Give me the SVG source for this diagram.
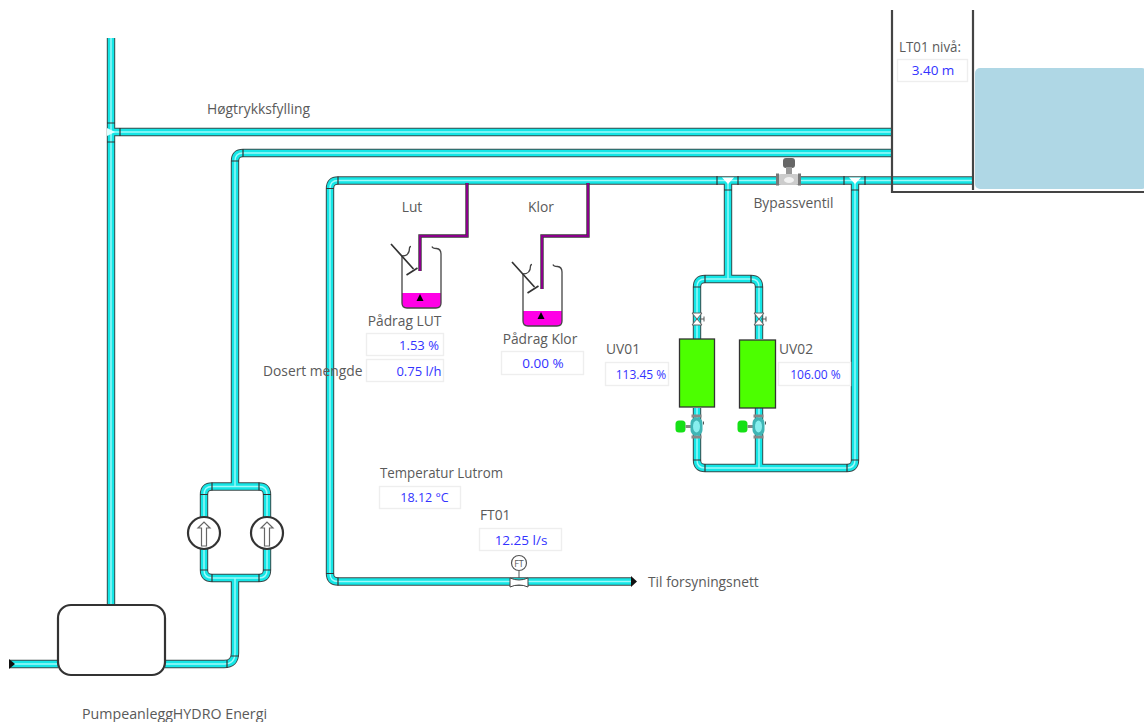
<svg xmlns="http://www.w3.org/2000/svg" width="1144" height="722" viewBox="0 0 1144 722">
<style>
text{font-family:"Open Sans","Liberation Sans",sans-serif;font-size:13.800px;fill:#5a5a5a}
.v{fill:#3333ff;text-anchor:middle;font-size:13.500px}
.c{text-anchor:middle}
.box{fill:#fff;stroke:#eee;stroke-width:1.4}
.po{fill:none;stroke:#3a4a4a;stroke-width:8.400}
.pc{fill:none;stroke:#14e6e6;stroke-width:6.400}
.pi{fill:none;stroke:#9ffafa;stroke-width:1.400}
.sm{fill:none;stroke:#333;stroke-width:1.200}
.chem{fill:none;stroke:#3a3a3a;stroke-width:3.400}
.chem2{fill:none;stroke:#8a008a;stroke-width:2}
.uv{fill:#4cff00;stroke:#333;stroke-width:1.300}
.vg{fill:#fff;stroke:#666;stroke-width:1}
.tank{fill:none;stroke:#444;stroke-width:2.200}
</style>
<defs>
<path id="p" d="M111 38V605M111 132H891M235 484V161Q235 153 243 153H891M972 180.500H338Q330 180.500 330 188.500V573.500Q330 581.500 338 581.500H632M212 486.500H259Q267 486.500 267 494.500V570Q267 578 259 578H212Q204 578 204 570V494.500Q204 486.500 212 486.500ZM235 486V484M235 578V653Q235 664 224 664H165M10 664H58M728 180V279M697 339V287Q697 279 705 279H751Q759 279 759 287V339M697 408V460Q697 468 705 468H847Q855 468 855 460V180M759 408V468"/>
<g id="beaker">
<path d="M-19.500 50H19.500V60Q19.500 65 14.500 65H-14.500Q-19.500 65 -19.500 60Z" fill="#ff00e6"/>
<path d="M-19.500 13V60Q-19.500 65 -14.500 65H14.500Q19.500 65 19.500 60V11Q19.500 6 15 5.500Q11 5.500 10.500 3.500M-19.500 13Q-12 13 -12 5Q-12 3.500 -10.500 3.500" fill="none" stroke="#444" stroke-width="1.300"/>
<path d="M-30.500 1L-8 26M-15 32L-4 25" fill="none" stroke="#333" stroke-width="1.700"/>
<path d="M-1.500 51L2 58H-5Z" fill="#000"/>
</g>
<g id="pump"><circle r="16" fill="#fff" stroke="#333" stroke-width="2.200"/><path d="M-2.500 13V-5H-6L0 -11L6 -5H2.500V13Z" fill="#fff" stroke="#666" stroke-width="1.200"/></g>
<g id="valve"><path d="M-5 -6L5 6H-5L5 -6Z" class="vg"/><path d="M2 0H7M7 -2.500V2.500" stroke="#555" fill="none"/></g>
<g id="reg">
<rect x="-21" y="-6" width="10" height="12" rx="3.500" fill="#16e016"/>
<path d="M-11 0H-4" stroke="#888" stroke-width="3"/>
<rect x="-6" y="-9" width="12" height="18" rx="5.500" fill="#3fb5b5"/>
<ellipse rx="3.500" ry="6" fill="#8ee"/>
<rect x="-5" y="-12" width="10" height="3" fill="#888"/><rect x="-5" y="9" width="10" height="3" fill="#888"/>
<path d="M7 -5V-2" stroke="#555"/>
</g>
</defs>
<g id="connectors">
<use href="#p" class="po"/><use href="#p" class="pc"/><use href="#p" class="pi"/>
<path class="sm" d="M107 123H115M107 142H115M120 128V136M231 161H239M243 149V157M338 176.500V184.500M326 188.500H334M326 573.500H334M338 577.500V585.500M717 176V185M738 176V185M844 176V185M865 176V185M724 190H732M851 190H859M693 287H701M705 275V283M751 275V283M755 287H763M693 460H701M705 464V472M847 464V472M851 460H859M755 464V464M212 482.500V490.500M259 482.500V490.500M200 494.500H208M263 494.500H271M200 570H208M263 570H271M212 574V582M259 574V582M227 660V668M231 656H239"/>
<path d="M107 128L115 132L107 136Z" fill="#dff"/>
<path d="M722 177.500H734L728 184ZM849 177.500H861L855 184Z" fill="#fff"/>
<path d="M637 581.500L631 576V587Z" fill="#111"/>
<path d="M9 659L15 664L9 669Z" fill="#111"/>
<path class="chem" d="M467 183V236H420V271"/><path class="chem2" d="M467 183V236H420V271"/>
<path class="chem" d="M588 183V236H542V289"/><path class="chem2" d="M588 183V236H542V289"/>
</g>
<g id="tank">
<rect x="975" y="68" width="172" height="121" rx="5" fill="#afd7e5"/>
<path class="tank" d="M892 10V192H1144M973 10V190"/>
<rect class="box" x="897.500" y="59.500" width="70" height="22"/>
<text x="899" y="52" textLength="62" lengthAdjust="spacingAndGlyphs">LT01 nivå:</text>
<text class="v" x="933" y="75">3.40 m</text>
</g>
<g id="label-hogtrykk"><text x="207" y="114" textLength="103" lengthAdjust="spacingAndGlyphs">Høgtrykksfylling</text></g>
<g id="bypass">
<rect x="783" y="158" width="12" height="10" rx="3" fill="#666"/>
<rect x="786" y="167" width="6" height="7" fill="#999"/>
<rect x="778" y="174" width="21" height="11" rx="3" fill="#ccc"/>
<ellipse cx="789" cy="180" rx="5" ry="3" fill="#f2f2f2"/>
<rect x="776" y="173.500" width="3" height="12" fill="#777"/><rect x="798" y="173.500" width="3" height="12" fill="#777"/>
<text class="c" x="793.500" y="208">Bypassventil</text>
</g>
<g id="lut">
<text class="c" x="412" y="212">Lut</text>
<use href="#beaker" x="421.500" y="243"/>
<text class="c" x="404.500" y="326">Pådrag LUT</text>
<rect class="box" x="366.500" y="333.500" width="77" height="22"/>
<text class="v" x="419" y="350" style="font-size:13px">1.53 %</text>
<rect class="box" x="366.500" y="359.500" width="77" height="22"/>
<text class="v" x="419" y="376" style="font-size:13px">0.75 l/h</text>
<text x="263" y="376">Dosert mengde</text>
</g>
<g id="klor">
<text class="c" x="541" y="212">Klor</text>
<use href="#beaker" x="542.500" y="261"/>
<text class="c" x="540" y="344">Pådrag Klor</text>
<rect class="box" x="501.500" y="351.500" width="82" height="23"/>
<text class="v" x="543" y="368">0.00 %</text>
</g>
<g id="uv01">
<use href="#valve" x="697" y="319"/>
<rect class="uv" x="679.500" y="339" width="35" height="68"/>
<use href="#reg" x="696.500" y="426.500"/>
<text x="606" y="354">UV01</text>
<rect class="box" x="605.500" y="362.500" width="63" height="23"/>
<text class="v" x="641" y="379" style="font-size:12px">113.45 %</text>
</g>
<g id="uv02">
<use href="#valve" x="759" y="319"/>
<rect class="uv" x="739.500" y="340" width="36" height="68"/>
<use href="#reg" x="758.500" y="426.500"/>
<text x="779" y="354">UV02</text>
<rect class="box" x="778.500" y="362.500" width="72" height="23"/>
<text class="v" x="815.500" y="379" style="font-size:12px">106.00 %</text>
</g>
<g id="pumps"><use href="#pump" x="204" y="533"/><use href="#pump" x="267" y="533"/></g>
<g id="temp">
<text x="380" y="478" textLength="123" lengthAdjust="spacingAndGlyphs">Temperatur Lutrom</text>
<rect class="box" x="379.500" y="486.500" width="81" height="22"/>
<text class="v" x="424.500" y="502" style="font-size:12.500px">18.12 °C</text>
</g>
<g id="ft01">
<text x="480" y="520">FT01</text>
<rect class="box" x="479.500" y="528.500" width="82" height="22"/>
<text class="v" x="521" y="545">12.25 l/s</text>
<circle cx="519" cy="563" r="7.500" fill="#fff" stroke="#555" stroke-width="1.200"/>
<text class="c" x="519" y="566.500" style="font-size:9px">FT</text>
<path d="M519 571V578" stroke="#555"/>
<path d="M510 578Q519 582 528 578V587Q519 583 510 587Z" fill="#fff" stroke="#444"/>
<text x="648" y="587">Til forsyningsnett</text>
</g>
<g id="pumpeanlegg">
<rect x="58" y="605" width="107" height="70" rx="13" fill="#fff" stroke="#333" stroke-width="2.200"/>
<text x="82" y="719" textLength="185" lengthAdjust="spacingAndGlyphs">PumpeanleggHYDRO Energi</text>
</g>
</svg>
